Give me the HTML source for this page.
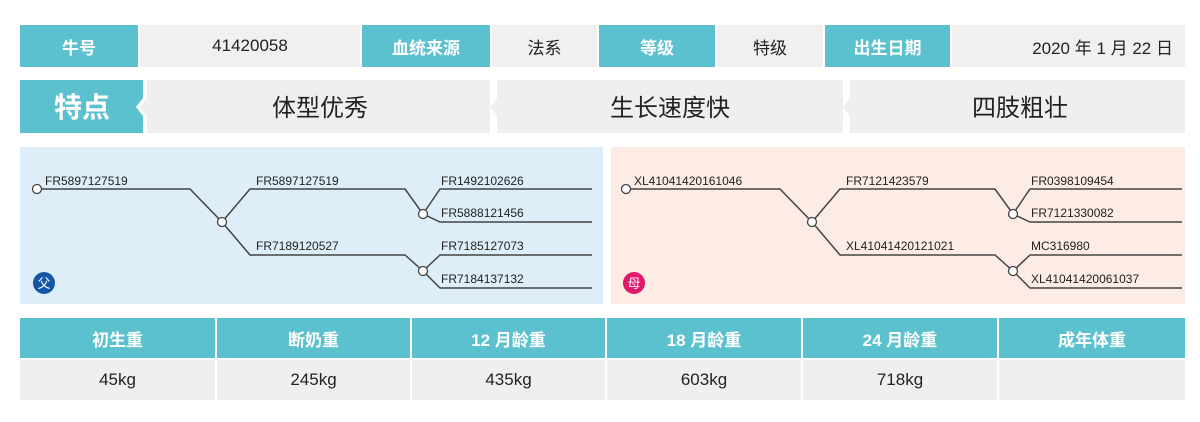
<!DOCTYPE html>
<html><head><meta charset="utf-8"><style>
body{margin:0;width:1200px;height:422px;background:#fff;position:relative;overflow:hidden;font-family:"Liberation Sans","Noto Sans CJK SC",sans-serif;}
.c{position:absolute;display:flex;align-items:center;justify-content:center;font-size:17px;color:#222;}
.t{background:#5cc1cf;color:#fff;font-weight:bold;}
.g{background:#f0f0f0;}
.r{background:#eef0ef;}
</style></head><body>
<div class="c t" style="left:20px;top:25px;width:118px;height:42px">牛号</div>
<div class="c g" style="left:140px;top:25px;width:220px;height:42px">41420058</div>
<div class="c t" style="left:362px;top:25px;width:128px;height:42px">血统来源</div>
<div class="c g" style="left:492px;top:25px;width:105px;height:42px">法系</div>
<div class="c t" style="left:599px;top:25px;width:116px;height:42px">等级</div>
<div class="c g" style="left:717px;top:25px;width:106px;height:42px">特级</div>
<div class="c t" style="left:825px;top:25px;width:125px;height:42px">出生日期</div>
<div class="c g" style="left:952px;top:25px;width:233px;height:42px;justify-content:flex-end;padding-right:12px;box-sizing:border-box">2020 年 1 月 22 日</div>
<svg style="position:absolute;left:0;top:0" width="1200" height="422">
<polygon points="20,80 143,80 143,98 136,107 143,116 143,133 20,133" fill="#5cc1cf"/>
<polygon points="147,80 490,80 490,133 147,133 147,116 140,107 147,98" fill="#eef0ef"/>
<polygon points="497,80 843,80 843,133 497,133 497,116 490,107 497,98" fill="#eef0ef"/>
<polygon points="850,80 1185,80 1185,133 850,133 850,116 843,107 850,98" fill="#eef0ef"/>
<text x="82" y="117" font-size="28" font-weight="bold" fill="#fff" text-anchor="middle" font-family="Liberation Sans,Noto Sans CJK SC,sans-serif">特点</text>
<g font-size="24" fill="#222" text-anchor="middle" font-family="Liberation Sans,Noto Sans CJK SC,sans-serif">
<text x="320" y="116">体型优秀</text><text x="670" y="116">生长速度快</text><text x="1020" y="116">四肢粗壮</text></g>
<rect x="20" y="147" width="583" height="157" fill="#ddeef9"/>
<rect x="611" y="147" width="574" height="157" fill="#fdece5"/>
<g stroke="#444" stroke-width="1.5" fill="none">
<path d="M37,189 H190 L222,222 L250,189 H405 L423,214 L440,189 H592 M423,214 L440,222 H592 M222,222 L250,255 H405 L423,271 L440,255 H592 M423,271 L440,288 H592"/>
<path d="M626,189 H780 L812,222 L840,189 H995 L1013,214 L1030,189 H1182 M1013,214 L1030,222 H1182 M812,222 L840,255 H995 L1013,271 L1030,255 H1182 M1013,271 L1030,288 H1182"/>
</g>
<g stroke="#444" stroke-width="1.3" fill="#fff">
<circle cx="37" cy="189" r="4.5"/><circle cx="222" cy="222" r="4.5"/><circle cx="423" cy="214" r="4.5"/><circle cx="423" cy="271" r="4.5"/>
<circle cx="626" cy="189" r="4.5"/><circle cx="812" cy="222" r="4.5"/><circle cx="1013" cy="214" r="4.5"/><circle cx="1013" cy="271" r="4.5"/>
</g>
<g font-size="12" fill="#222" font-family="Liberation Sans,sans-serif">
<text x="45" y="185">FR5897127519</text><text x="256" y="185">FR5897127519</text><text x="441" y="185">FR1492102626</text><text x="441" y="217">FR5888121456</text>
<text x="256" y="250">FR7189120527</text><text x="441" y="250">FR7185127073</text><text x="441" y="283">FR7184137132</text>
<text x="634" y="185">XL41041420161046</text><text x="846" y="185">FR7121423579</text><text x="1031" y="185">FR0398109454</text><text x="1031" y="217">FR7121330082</text>
<text x="846" y="250">XL41041420121021</text><text x="1031" y="250">MC316980</text><text x="1031" y="283">XL41041420061037</text>
</g>
<circle cx="44" cy="283" r="11" fill="#1457a8"/><text x="44" y="288" font-size="13" fill="#fff" text-anchor="middle" font-family="Noto Sans CJK SC,sans-serif">父</text>
<circle cx="634" cy="283" r="11" fill="#e0196a"/><text x="634" y="288" font-size="13" fill="#fff" text-anchor="middle" font-family="Noto Sans CJK SC,sans-serif">母</text>
</svg>
<div class="c t" style="left:20px;top:318px;width:195px;height:40px">初生重</div>
<div class="c t" style="left:217px;top:318px;width:193px;height:40px">断奶重</div>
<div class="c t" style="left:412px;top:318px;width:193px;height:40px">12 月龄重</div>
<div class="c t" style="left:607px;top:318px;width:194px;height:40px">18 月龄重</div>
<div class="c t" style="left:803px;top:318px;width:194px;height:40px">24 月龄重</div>
<div class="c t" style="left:999px;top:318px;width:186px;height:40px">成年体重</div>
<div class="c r" style="left:20px;top:360px;width:195px;height:40px">45kg</div>
<div class="c r" style="left:217px;top:360px;width:193px;height:40px">245kg</div>
<div class="c r" style="left:412px;top:360px;width:193px;height:40px">435kg</div>
<div class="c r" style="left:607px;top:360px;width:194px;height:40px">603kg</div>
<div class="c r" style="left:803px;top:360px;width:194px;height:40px">718kg</div>
<div class="c r" style="left:999px;top:360px;width:186px;height:40px"></div>
</body></html>
